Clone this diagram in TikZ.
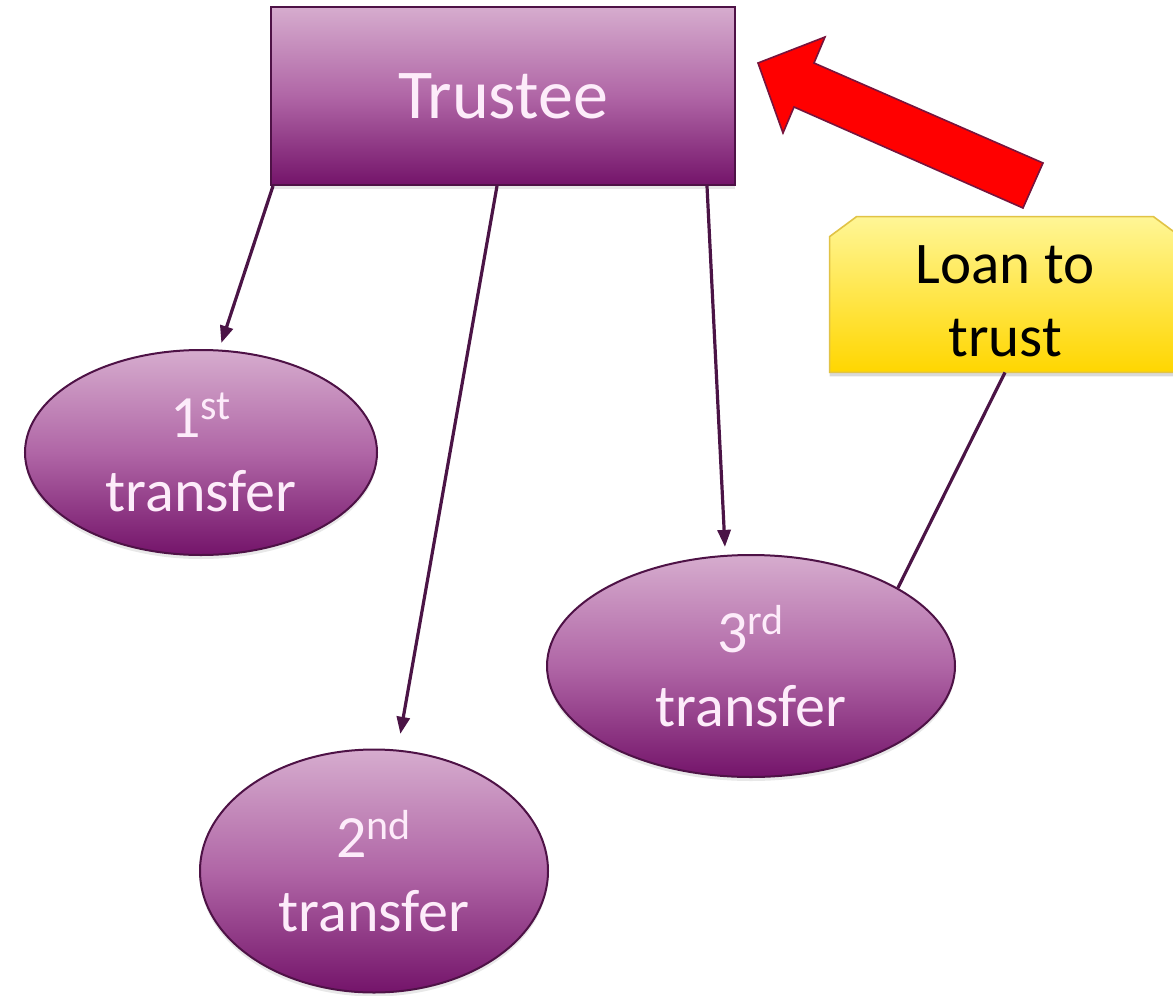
\documentclass[tikz,border=0pt]{standalone}
\usepackage{fontspec}
\setmainfont{Carlito}
\usetikzlibrary{arrows.meta,shapes.geometric,shadows,backgrounds}
\definecolor{ptop}{RGB}{214,172,206}
\definecolor{pmid}{RGB}{176,102,166}
\definecolor{pbot}{RGB}{116,20,106}
\definecolor{pline}{RGB}{78,18,70}
\definecolor{ptext}{RGB}{253,236,250}
\definecolor{ytop}{RGB}{255,246,150}
\definecolor{ybot}{RGB}{255,214,0}
\definecolor{yline}{RGB}{225,195,70}
\definecolor{redfill}{RGB}{255,0,0}
\definecolor{redline}{RGB}{120,20,60}
\definecolor{connc}{RGB}{75,20,70}
\tikzset{
  pshape/.style={draw=pline, line width=1pt, top color=ptop, bottom color=pbot, middle color=pmid,
    inner sep=0pt, text=ptext, align=center,
    drop shadow={opacity=0.18, shadow xshift=0pt, shadow yshift=-2pt}},
  trusteebox/.style={pshape, rectangle, font=\fontsize{35}{42}\selectfont},
  transferell/.style={pshape, ellipse, font=\fontsize{30}{37}\selectfont},
  loanbox/.style={rectangle, inner sep=0pt, align=center, text=black, font=\fontsize{29.5}{36.5}\selectfont},
  conn/.style={draw=connc, line width=1.6pt, -{Triangle[length=8.5pt,width=6.5pt]}},
  plainconn/.style={draw=connc, line width=1.6pt},
  loanpath/.style={insert path={([yshift=3.5pt]loan.south west) -- ([yshift=-6.5pt]loan.north west)
    -- ([xshift=13.5pt,yshift=3.5pt]loan.north west) -- ([xshift=-13.5pt,yshift=3.5pt]loan.north east)
    -- ([yshift=-6.5pt]loan.north east) -- ([yshift=3.5pt]loan.south east) -- cycle}}
}
\begin{document}
\begin{tikzpicture}[x=0.5pt,y=-0.5pt]
\useasboundingbox (0,0) rectangle (1173,996);
\clip (0,0) rectangle (1173,996);
\node[trusteebox, minimum width=232pt, minimum height=89pt] (trustee) at (503,96) {Trustee};
\node[transferell, minimum width=176pt, minimum height=102.5pt] (e1) at (201,452.5) {1\textsuperscript{st}\\transfer};
\node[transferell, minimum width=174pt, minimum height=121.5pt] (e2) at (374,871) {2\textsuperscript{nd}\\transfer};
\node[transferell, minimum width=204pt, minimum height=111pt] (e3) at (751,666) {3\textsuperscript{rd}\\transfer};
\node[loanbox, minimum width=175pt, minimum height=77.5pt] (loan) at (1005,301.5) {Loan to\\trust};
\begin{scope}[on background layer]
  \fill[white] (0,0) rectangle (1173,996);
  \fill[black, opacity=0.15, transform canvas={yshift=-2pt}, loanpath];
  \shadedraw[top color=ytop, bottom color=ybot, draw=yline, line width=0.8pt, loanpath];
\end{scope}
\fill[redfill, draw=redline, line width=0.8pt, line join=miter]
  (758,63) -- (825,37) -- (814,63) -- (1043,163) -- (1023,208) -- (794,107) -- (783,133) -- cycle;
\draw[conn, shorten >=3.5pt] ([xshift=1.5pt]trustee.south west) -- (e1.80);
\draw[conn, shorten >=8pt] ([xshift=-3pt]trustee.south) -- (e2.79);
\draw[conn, shorten >=4pt] ([xshift=-14.5pt]trustee.south east) -- (e3.103);
\draw[plainconn] ([yshift=3.5pt]loan.south) -- (e3.28);
\end{tikzpicture}
\end{document}
